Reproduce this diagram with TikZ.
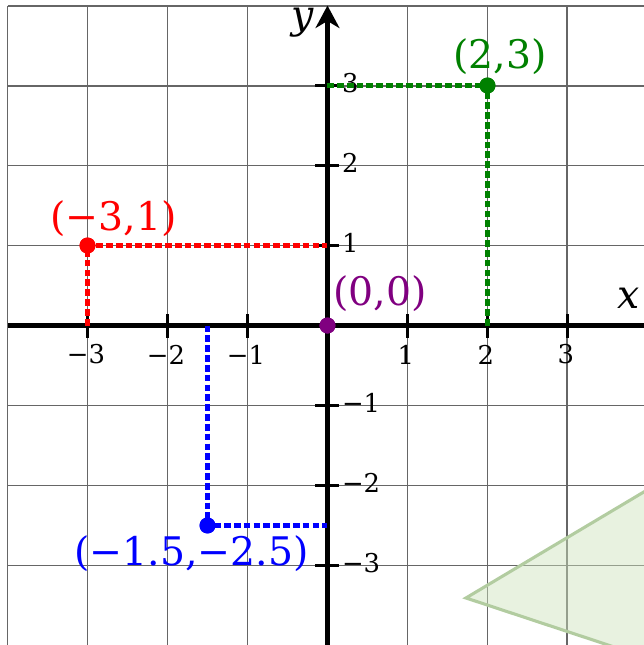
\documentclass[tikz,border=0pt]{standalone}
\usepackage{fontspec}
\setmainfont{DejaVu Serif}
\usetikzlibrary{arrows.meta}
\definecolor{gridgray}{RGB}{102,102,102}
\definecolor{ptred}{RGB}{255,0,0}
\definecolor{ptgreen}{RGB}{0,128,0}
\definecolor{ptblue}{RGB}{0,0,255}
\definecolor{ptpurple}{RGB}{128,0,128}
\definecolor{trifill}{RGB}{205,227,188}
\definecolor{tridraw}{RGB}{178,204,160}
\begin{document}
\begin{tikzpicture}[
  gridline/.style={draw=gridgray, line width=0.7pt},
  axisline/.style={line width=1.5pt},
  tickmark/.style={line width=1pt},
  guide/.style={line width=1.5pt, dash pattern=on 2.4pt off 1.1pt},
  dot/.style={circle, inner sep=0pt, minimum size=0.2cm},
  ptlabel/.style={inner sep=0pt, font=\fontsize{14}{16}\selectfont},
  axlabel/.style={inner sep=0pt, font=\fontsize{14}{16}\selectfont\itshape},
  ticklabel/.style={inner sep=0pt, font=\fontsize{9.2}{10}\selectfont},
]
\useasboundingbox (-4.094,-3.994) rectangle (3.956,4.069);
\clip (-4.094,-3.994) rectangle (3.956,4.069);
% grid
\draw[gridline] (-4,-4) grid (4,4);
% translucent triangle
\filldraw[fill=trifill, fill opacity=0.46, draw=tridraw, line width=1.1pt]
  (1.731,-3.406) -- (4.731,-1.618) -- (4.731,-4.399) -- cycle;
% axes
\draw[axisline] (-4,0) -- (4.3,0);
\draw[axisline, -{Stealth[length=8pt,width=8.5pt,inset=2.5pt]}] (0,-4.3) -- (0,4.0);
% ticks and tick labels
\foreach \i/\t in {-3/−3,-2/−2,-1/−1,1/1,2/2,3/3}{
  \draw[tickmark] (\i,-0.15) -- (\i,0.15);
  \node[ticklabel] (xt\i) at (\i-0.02,-0.3625) {\t};
  \draw[tickmark] (-0.15,\i) -- (0.15,\i);
  \node[ticklabel, anchor=west] (yt\i) at (0.175,\i+0.03) {\t};
}
\node[axlabel] (ylab) at (-0.306,3.79) {y};
\node[axlabel] (xlab) at (3.769,0.344) {x};
% points
\node[dot, fill=ptred] (pa) at (-3,1) {};
\node[dot, fill=ptgreen] (pb) at (2,3) {};
\node[dot, fill=ptblue] (pc) at (-1.5,-2.5) {};
\node[dot, fill=ptpurple] (po) at (0,0) {};
\coordinate (pax) at (-3,0);
\coordinate (pay) at (0,1);
\coordinate (pbx) at (2,0);
\coordinate (pby) at (0,3);
\coordinate (pcx) at (-1.5,0);
\coordinate (pcy) at (0,-2.5);
% guide lines
\draw[guide, ptred] (pax) -- (pa.center) -- (pay);
\draw[guide, ptgreen] (pbx) -- (pb.center) -- (pby);
\draw[guide, ptblue] (pcx) -- (pc.center) -- (pcy);
% redraw dots on top
\fill[ptred] (pa.center) circle (0.1);
\fill[ptgreen] (pb.center) circle (0.1);
\fill[ptblue] (pc.center) circle (0.1);
\fill[ptpurple] (po.center) circle (0.1);
% labels
\node[ptlabel, text=ptred] (la) at (-2.675,1.3375) {(−3,1)};
\node[ptlabel, text=ptgreen] (lb) at (2.156,3.3625) {(2,3)};
\node[ptlabel, text=ptpurple] (lo) at (0.656,0.4) {(0,0)};
\node[ptlabel, text=ptblue] (lc) at (-1.7,-2.85) {(−1.5,−2.5)};
\end{tikzpicture}
\end{document}
